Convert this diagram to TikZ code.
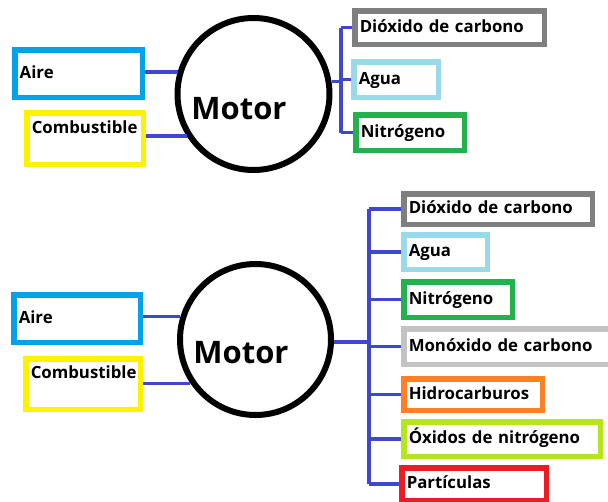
\documentclass[tikz,border=0pt]{standalone}
\usepackage{fontspec}
\setmainfont{Open Sans}
\usepackage{tikz}
\usetikzlibrary{calc}

\definecolor{aireblue}{HTML}{00A2E8}
\definecolor{fuelyellow}{HTML}{FFF200}
\definecolor{coggray}{HTML}{7F7F7F}
\definecolor{aguablue}{HTML}{99D9EA}
\definecolor{nitrogreen}{HTML}{22B14C}
\definecolor{cogray}{HTML}{C3C3C3}
\definecolor{hcorange}{HTML}{FF7F27}
\definecolor{noxlime}{HTML}{B5E61D}
\definecolor{pmred}{HTML}{ED1C24}
\definecolor{wireblue}{HTML}{3F48CC}

\begin{document}
\begin{tikzpicture}
		[x=1pt,y=-1pt,
		box/.style= {rectangle,draw=#1,line width=5.5pt,inner xsep=5pt,inner ysep=2pt,align=left,
			text height=12pt,text depth=3pt,font=\fontsize{16.8}{18}\selectfont\bfseries,
			execute at begin node={\hyphenpenalty=10000\relax}},
		eng/.style= {circle,draw=black,line width=6pt,fill=white,inner sep=0pt},
		engtext/.style= {inner sep=0pt,font=\fontsize{31}{34}\selectfont\bfseries},
		w/.style= {draw=wireblue,line width=3.5pt}]

		\useasboundingbox (0,0) rectangle (608,501);
		\clip (0,0) rectangle (608,501);
		\fill[white] (0,0) rectangle (608,501);

		% first engine
		\node[eng,minimum size=152pt] (motor1) at (253.5,94) {};
		\node[engtext] (mtext1) at ([shift={(-14.5,14.5)}]motor1.center) {Motor};

		\node[box=aireblue,minimum width=127.5pt,minimum height=47.5pt,text width=117.5pt] (aire1) at (78.5,73.5) {Aire};
		\node[box=fuelyellow,minimum width=116.5pt,minimum height=51.5pt,text width=106.5pt,text depth=23pt] (comb1) at (85,138.5) {Combustible};

		\node[box=coggray,minimum width=189.5pt,minimum height=33.5pt,text width=179.5pt] (diox1) at (449.5,27.5) {Dióxido de carbono};
		\node[box=aguablue,minimum width=84.5pt,minimum height=35.5pt,text width=74.5pt] (agua1) at (396,79.5) {Agua};
		\node[box=nitrogreen,minimum width=108.5pt,minimum height=35.5pt,text width=98.5pt] (nitro1) at (410,132.5) {Nitrógeno};

		\coordinate (bus1) at (341,82);

		\draw[w] (aire1.east |- motor1.164) -- (motor1.164);
		\draw[w] (comb1.east |- motor1.212) -- (motor1.212);
		\draw[w] (motor1.9) -- (motor1.9 -| bus1);
		\draw[w] (bus1 |- diox1.west) -- (bus1 |- nitro1.west);
		\foreach \b in {diox1,agua1,nitro1}
			\draw[w] (bus1 |- \b.west) -- (\b.west);

		% second engine
		\node[eng,minimum size=151pt] (motor2) at (255.5,339.5) {};
		\node[engtext] (mtext2) at ([shift={(-14.5,13.5)}]motor2.center) {Motor};

		\node[box=aireblue,minimum width=126.5pt,minimum height=47.5pt,text width=116.5pt] (aire2) at (77,318.5) {Aire};
		\node[box=fuelyellow,minimum width=114.5pt,minimum height=50.5pt,text width=104.5pt,text depth=23pt] (comb2) at (83,384) {Combustible};

		\node[box=coggray,minimum width=188.5pt,minimum height=30.5pt,text width=178.5pt] (diox2) at (498,209) {Dióxido de carbono};
		\node[box=aguablue,minimum width=83.5pt,minimum height=34.5pt,text width=73.5pt] (agua2) at (445.5,252) {Agua};
		\node[box=nitrogreen,minimum width=108.5pt,minimum height=35.5pt,text width=98.5pt] (nitro2) at (458,299.5) {Nitrógeno};
		\node[box=cogray,minimum width=225.5pt,minimum height=35.5pt,text width=215.5pt] (monox2) at (516.5,346.5) {Monóxido de carbono};
		\node[box=hcorange,minimum width=138.5pt,minimum height=31.5pt,text width=128.5pt] (hidro2) at (473,394.5) {Hidrocarburos};
		\node[box=noxlime,minimum width=196.5pt,minimum height=34.5pt,text width=186.5pt] (oxid2) at (502,439) {Óxidos de nitrógeno};
		\node[box=pmred,minimum width=144.5pt,minimum height=32.5pt,text width=134.5pt] (part2) at (474,484) {Partículas};

		\coordinate (bus2) at (369,342);

		\draw[w] (aire2.east |- motor2.163) -- (motor2.163);
		\draw[w] (comb2.east |- motor2.214) -- (motor2.214);
		\draw[w] (motor2.358) -- (motor2.358 -| bus2);
		\draw[w] (bus2 |- diox2.west) -- (bus2 |- part2.west);
		\foreach \b in {diox2,agua2,nitro2,monox2,hidro2,oxid2,part2}
			\draw[w] (bus2 |- \b.west) -- (\b.west);

\end{tikzpicture}
\end{document}
